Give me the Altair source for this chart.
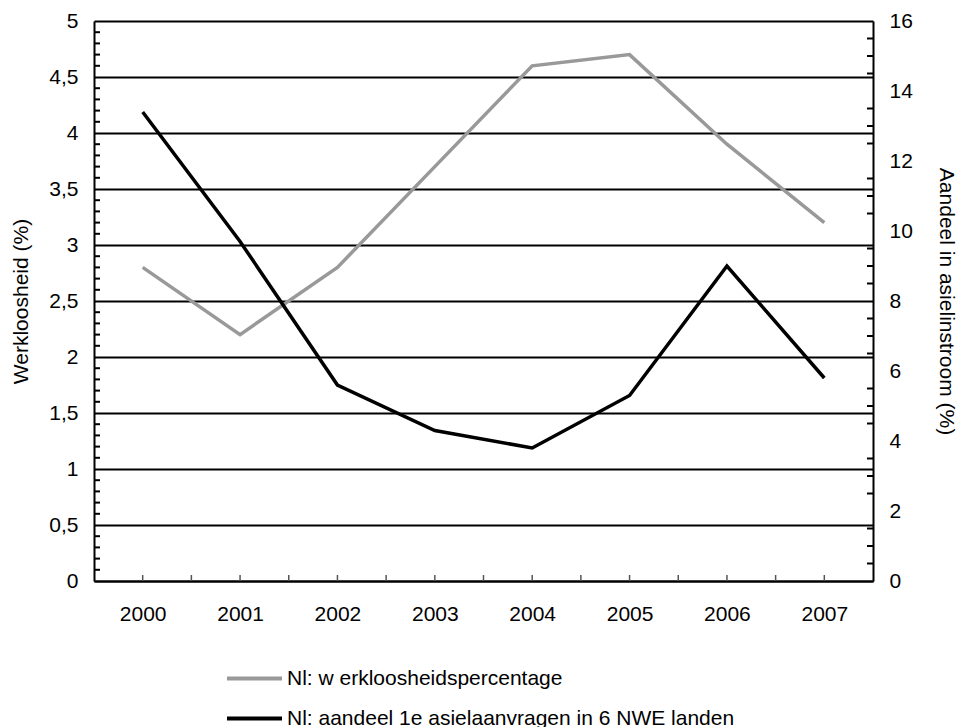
import altair as alt
import pandas as pd

# ---- data ----
years = [2000, 2001, 2002, 2003, 2004, 2005, 2006, 2007]
werkloosheid = [2.8, 2.2, 2.8, 3.7, 4.6, 4.7, 3.9, 3.2]          # left axis (%)
asielaandeel = [13.4, 9.7, 5.6, 4.3, 3.8, 5.3, 9.0, 5.8]          # right axis (%)
series_names = [
    "Nl: w erkloosheidspercentage",
    "Nl: aandeel 1e asielaanvragen in 6 NWE landen",
]
left_tick_values = [0, 0.5, 1, 1.5, 2, 2.5, 3, 3.5, 4, 4.5, 5]
right_tick_values = [0, 2, 4, 6, 8, 10, 12, 14, 16]
left_title = "Werkloosheid (%)"
right_title = "Aandeel in asielinstroom (%)"

# ---- styling ----
W, H = 779, 560
FONT = "Liberation Sans"
FS = 21
GRAY = "#999999"

# minor (inward) tick positions, axis decoration only
left_minor = [round(i * 0.1, 1) for i in range(1, 50) if i % 5]
right_minor = [i * 0.5 for i in range(1, 32) if i % 4]
x_minor = [1999.5 + 0.5 * i for i in range(1, 16)]

df_left = pd.DataFrame({"jaar": years, "waarde": werkloosheid, "reeks": series_names[0]})
df_right = pd.DataFrame({"jaar": years, "waarde": asielaandeel, "reeks": series_names[1]})

x_scale = alt.Scale(domain=[1999.5, 2007.5], nice=False, zero=False)
x_axis = alt.Axis(values=years, format="d", ticks=False, tickSize=0, grid=False,
                  domainColor="black", domainWidth=2, labelPadding=22,
                  labelFont=FONT, labelFontSize=FS, labelColor="black", title=None)

left_scale = alt.Scale(domain=[0, 5], nice=False, zero=True)
left_axis = alt.Axis(values=left_tick_values, orient="left", grid=True, gridColor="black",
                     gridWidth=2, gridOpacity=1, ticks=False, tickSize=0,
                     domainColor="black", domainWidth=2, labelPadding=16,
                     labelExpr="replace(format(datum.value, '.1~f'), '.', ',')",
                     labelFont=FONT, labelFontSize=FS, labelColor="black",
                     titleFont=FONT, titleFontSize=FS, titleColor="black",
                     titleFontWeight="normal", titleAngle=270, titleX=-73, titleY=H / 2,
                     titleAlign="center", titleBaseline="middle")

right_scale = alt.Scale(domain=[0, 16], nice=False, zero=True)
right_axis = alt.Axis(values=right_tick_values, orient="right", grid=False, ticks=False,
                      tickSize=0, domainColor="black", domainWidth=2, labelPadding=16,
                      labelFont=FONT, labelFontSize=FS, labelColor="black",
                      titleFont=FONT, titleFontSize=FS, titleColor="black",
                      titleFontWeight="normal", titleAngle=90, titleX=72, titleY=H / 2,
                      titleAlign="center", titleBaseline="middle")


def legend(y):
    return alt.Legend(orient="none", legendX=131, legendY=y, title=None,
                      symbolType="stroke", symbolSize=3025, symbolStrokeWidth=4,
                      labelFont=FONT, labelFontSize=FS, labelColor="black",
                      labelOffset=3, labelLimit=0, padding=0)


left_line = alt.Chart(df_left).mark_line(strokeWidth=3.5).encode(
    x=alt.X("jaar:Q", scale=x_scale, axis=x_axis),
    y=alt.Y("waarde:Q", scale=left_scale, axis=left_axis, title=left_title),
    color=alt.Color("reeks:N", scale=alt.Scale(domain=[series_names[0]], range=[GRAY]),
                    legend=legend(628)),
)
left_ticks = alt.Chart(pd.DataFrame({"v": left_minor})).mark_rule(
    color="black", strokeWidth=2).encode(
    y=alt.Y("v:Q", scale=left_scale, axis=left_axis, title=left_title),
    x=alt.value(0), x2=alt.value(6),
)
x_ticks = alt.Chart(pd.DataFrame({"x": x_minor})).mark_rule(
    color="#555555", strokeWidth=1.5).encode(
    x=alt.X("x:Q", scale=x_scale, axis=x_axis),
    y=alt.value(H - 6), y2=alt.value(H),
)
left_layer = alt.layer(left_line, left_ticks, x_ticks)

right_line = alt.Chart(df_right).mark_line(strokeWidth=3.5).encode(
    x=alt.X("jaar:Q", scale=x_scale, axis=x_axis),
    y=alt.Y("waarde:Q", scale=right_scale, axis=right_axis, title=right_title),
    color=alt.Color("reeks:N", scale=alt.Scale(domain=[series_names[1]], range=["black"]),
                    legend=legend(668)),
)
right_ticks = alt.Chart(pd.DataFrame({"v": right_minor})).mark_rule(
    color="black", strokeWidth=2).encode(
    y=alt.Y("v:Q", scale=right_scale, axis=right_axis, title=right_title),
    x=alt.value(W - 6), x2=alt.value(W),
)
right_layer = alt.layer(right_line, right_ticks)

chart = alt.layer(left_layer, right_layer).resolve_scale(
    y="independent", color="independent"
).properties(
    width=W, height=H,
    autosize=alt.AutoSizeParams(type="none"),
    padding={"left": 86, "top": 13, "right": 84, "bottom": 146},
).configure_view(stroke=None).configure(background="white")

chart.save("out.html", embed_options={"renderer": "svg", "actions": False})
